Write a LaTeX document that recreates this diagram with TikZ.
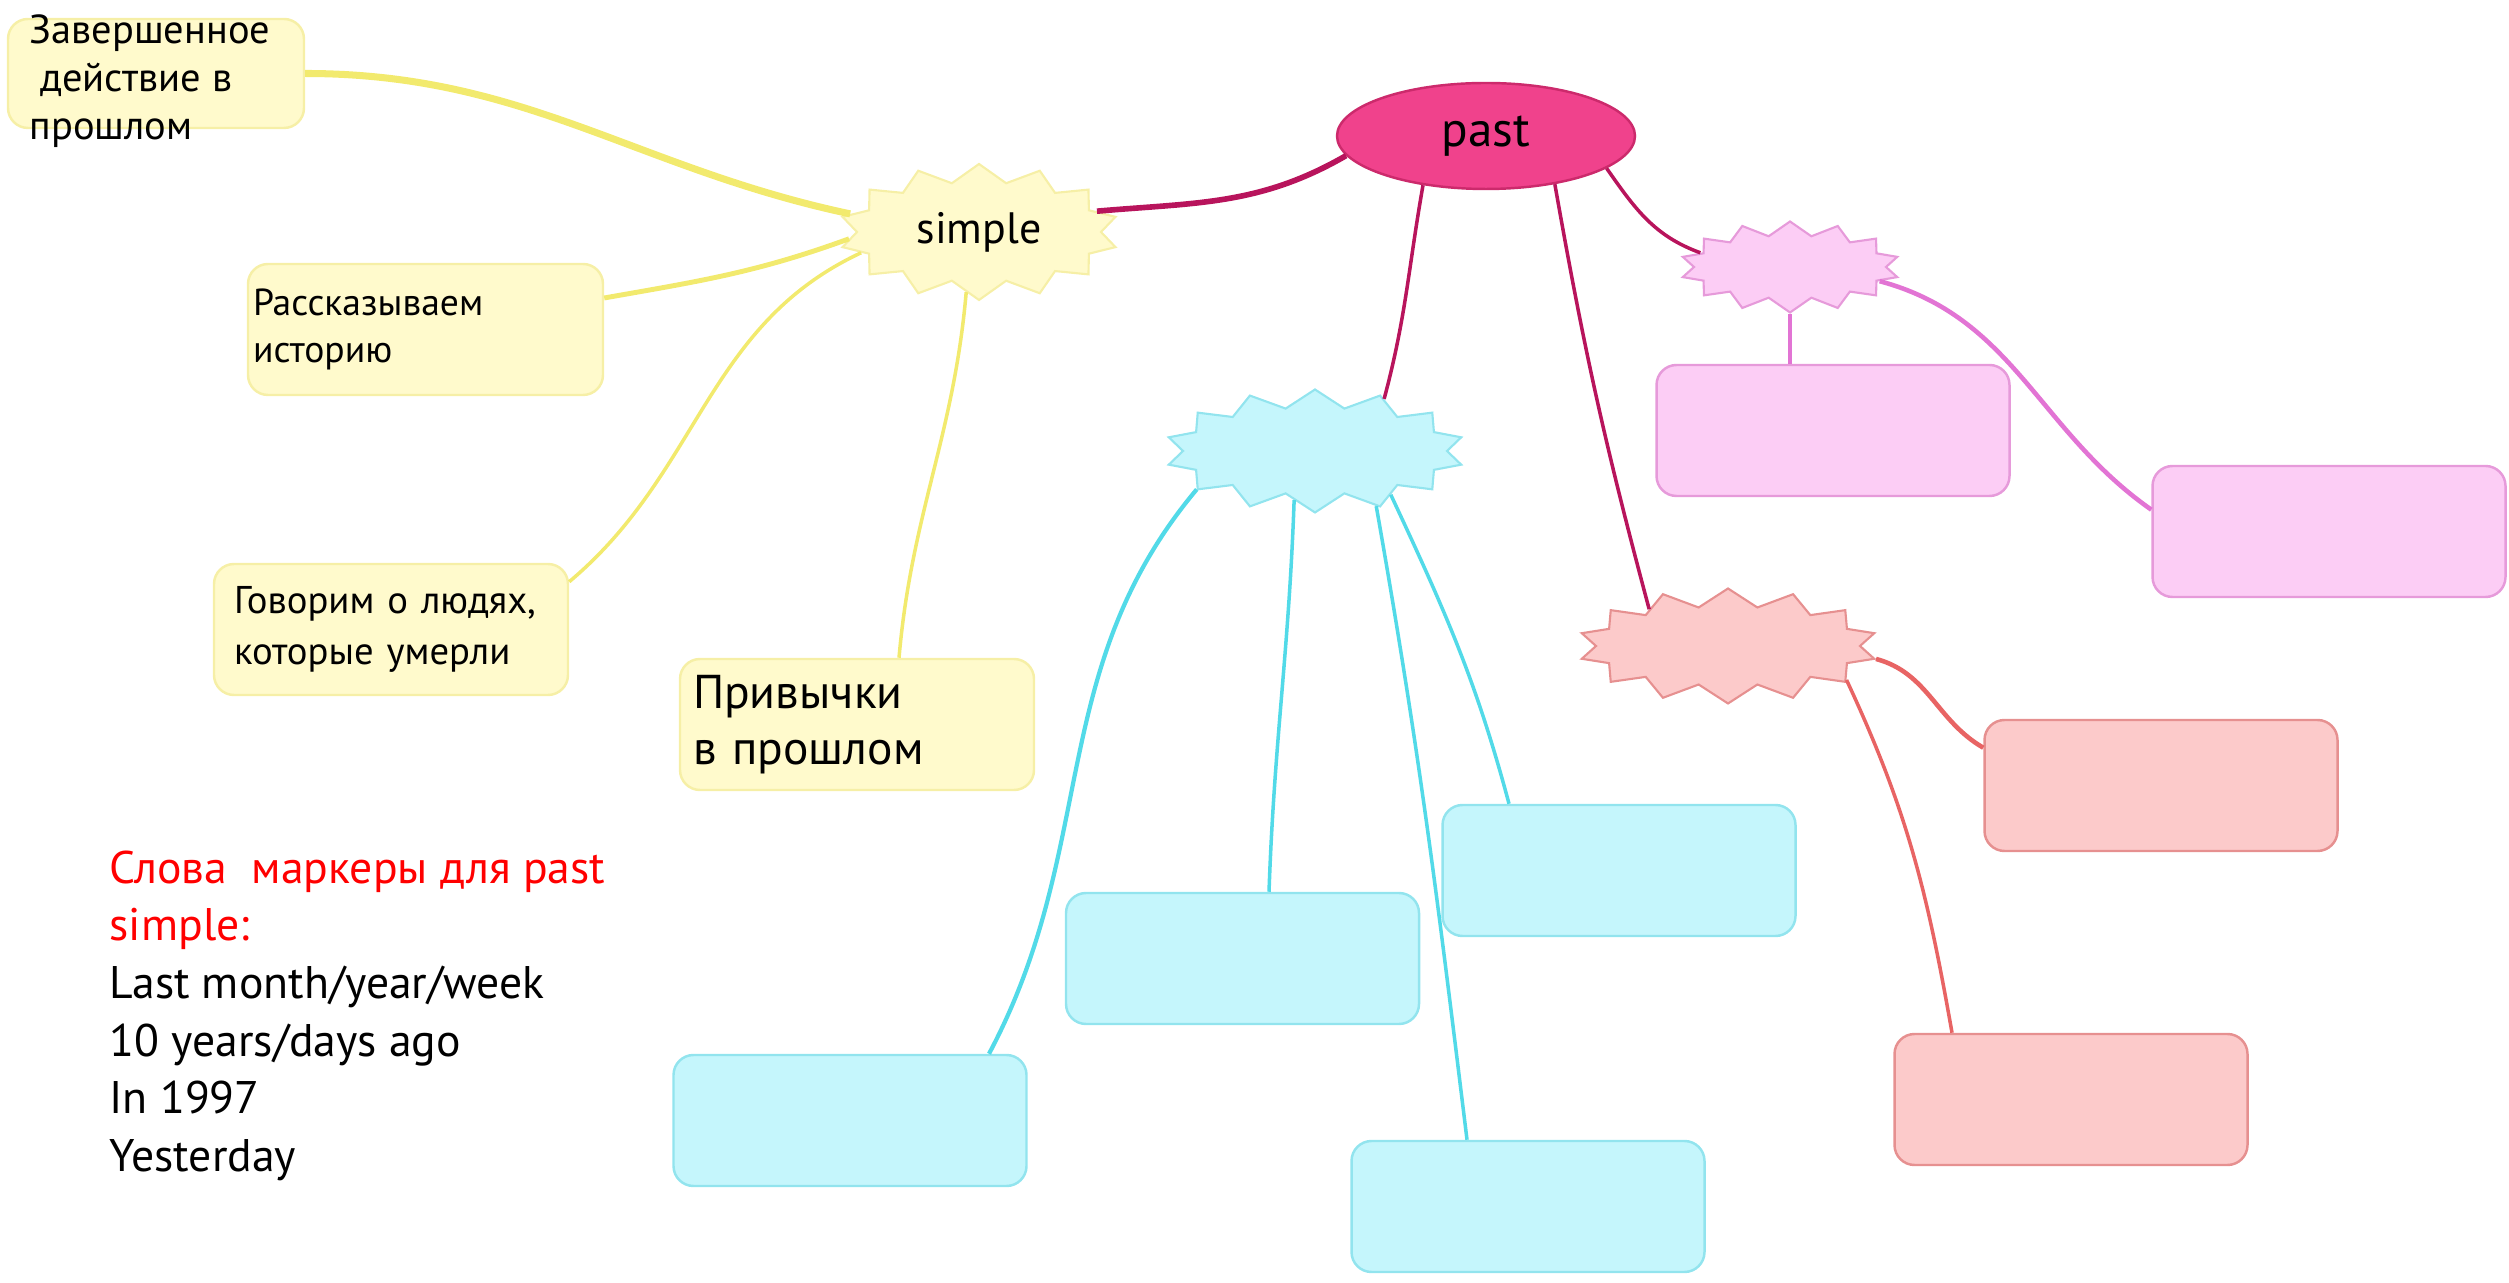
\documentclass[tikz,border=0pt]{standalone}
\usepackage{fontspec}
\setmainfont{PT Sans}
\usepackage{xcolor}
\usetikzlibrary{shapes.geometric,shapes.symbols}

% colori
\definecolor{gialloF}{HTML}{FFFACC}
\definecolor{gialloB}{HTML}{F6EFA6}
\definecolor{gialloL}{HTML}{F2EA6E}
\definecolor{pastF}{HTML}{F0428C}
\definecolor{pastB}{HTML}{CC2A6C}
\definecolor{pastL}{HTML}{B8145C}
\definecolor{cianoF}{HTML}{C5F6FC}
\definecolor{cianoB}{HTML}{92E4EE}
\definecolor{cianoL}{HTML}{52DAE8}
\definecolor{rosaF}{HTML}{FCCDF5}
\definecolor{rosaB}{HTML}{E69ADA}
\definecolor{rosaL}{HTML}{E274D4}
\definecolor{rossoF}{HTML}{FCCACA}
\definecolor{rossoB}{HTML}{E69090}
\definecolor{rossoL}{HTML}{E86464}
\definecolor{rosso}{HTML}{FF0000}

\tikzset{
  ramo/.style={draw, rounded corners=0.2cm, minimum width=3.53cm, minimum height=1.31cm, inner sep=0pt, line width=0.7pt},
  stella/.style={starburst, draw, starburst points=14, starburst point height=0.18cm, random starburst=0, inner sep=0pt, line width=0.6pt},
  linea/.style={line width=1pt},
}

\begin{document}
\begin{tikzpicture}
    \useasboundingbox (0,0) rectangle (25.09,-12.83);

    % Nodo centrale
    \node[ellipse, draw=pastB, fill=pastF, line width=0.7pt, minimum width=2.98cm, minimum height=1.06cm, font=\fontsize{14}{16}\selectfont] (past) at (14.86,-1.36) {past};

    % Stelle
    \node[stella, draw=gialloB, fill=gialloF, minimum width=2.8cm, minimum height=1.36cm, font=\fontsize{12.5}{15}\selectfont] (simple) at (9.79,-2.32) {simple};
    \node[stella, draw=cianoB, fill=cianoF, minimum width=3.0cm, minimum height=1.23cm] (cstar) at (13.15,-4.51) {};
    \node[stella, draw=rosaB, fill=rosaF, minimum width=2.2cm, minimum height=0.91cm, starburst point height=0.14cm] (pstar) at (17.90,-2.67) {};
    \node[stella, draw=rossoB, fill=rossoF, minimum width=3.0cm, minimum height=1.15cm] (rstar) at (17.28,-6.46) {};

    % Rami gialli
    \node[ramo, draw=gialloB, fill=gialloF, minimum width=2.96cm, minimum height=1.09cm] (zav) at (1.56,-0.735) {};
    \node[anchor=north west, align=left, inner sep=0pt, font=\fontsize{11.5}{13.6}\selectfont] (zavtesto) at (0.29,-0.14) {Завершенное\\\ действие в\\прошлом};
    \node[ramo, draw=gialloB, fill=gialloF, text width=3.45cm, inner xsep=0.05cm, align=left, font=\fontsize{10.7}{13.6}\selectfont] (ras) at (4.255,-3.295) {Рассказываем\\историю};
    \node[ramo, draw=gialloB, fill=gialloF, text width=3.14cm, inner xsep=0.2cm, align=left, font=\fontsize{11}{14.4}\selectfont] (gov) at (3.91,-6.295) {Говорим о людях,\\которые умерли};
    \node[ramo, draw=gialloB, fill=gialloF, text width=3.28cm, inner xsep=0.13cm, align=left, font=\fontsize{13.5}{15.9}\selectfont] (priv) at (8.57,-7.245) {Привычки\\в прошлом};

    % Rami ciano
    \node[ramo, draw=cianoB, fill=cianoF] (c1) at (8.50,-11.205) {};
    \node[ramo, draw=cianoB, fill=cianoF] (c2) at (12.425,-9.585) {};
    \node[ramo, draw=cianoB, fill=cianoF] (c3) at (16.19,-8.705) {};
    \node[ramo, draw=cianoB, fill=cianoF] (c4) at (15.28,-12.065) {};

    % Rami rosa e rossi
    \node[ramo, draw=rosaB, fill=rosaF] (p1) at (18.33,-4.305) {};
    \node[ramo, draw=rosaB, fill=rosaF] (p2) at (23.29,-5.315) {};
    \node[ramo, draw=rossoB, fill=rossoF] (r1) at (21.61,-7.855) {};
    \node[ramo, draw=rossoB, fill=rossoF] (r2) at (20.71,-10.995) {};

    % Collegamenti dal centro
    \draw[pastL, line width=1.6pt] (simple.10) to[out=5,in=210] (past.188);
    \draw[pastL, linea] (past.218) to[out=260,in=75] (cstar.37);
    \draw[pastL, linea] (past.325) to[out=-80,in=105] (rstar.155);
    \draw[pastL, linea] (past.345) to[out=-55,in=160] (pstar.171);

    % Collegamenti gialli
    \draw[gialloL, line width=2pt] (zav.east) to[out=0,in=168] (simple.172);
    \draw[gialloL, line width=1.4pt] (ras.10) to[out=10,in=200] (simple.183);
    \draw[gialloL, linea] (gov.15) to[out=40,in=205] (simple.190);
    \draw[gialloL, linea] ([xshift=0.42cm]priv.north) to[out=85,in=265] (simple.258);

    % Collegamenti ciano
    \draw[cianoL, line width=1.2pt] (cstar.198) to[out=230,in=62] ([xshift=1.39cm]c1.north);
    \draw[cianoL, linea] (cstar.247) to[out=268,in=88] ([xshift=0.265cm]c2.north);
    \draw[cianoL, linea] (cstar.318) to[out=-80,in=97] ([xshift=-0.61cm]c4.north);
    \draw[cianoL, linea] (cstar.330) to[out=-65,in=105] ([xshift=-1.10cm]c3.north);

    % Collegamenti rosa e rossi
    \draw[rosaL, linea] (pstar.south) -- (pstar.south |- p1.north);
    \draw[rosaL, line width=1.3pt] (pstar.351) to[out=-15,in=145] (p2.173);
    \draw[rossoL, line width=1.3pt] (rstar.355) to[out=-15,in=150] (r1.168);
    \draw[rossoL, linea] (rstar.344) to[out=-65,in=100] ([xshift=-1.19cm]r2.north);

    % Parole marcatori
    \node[anchor=north west, align=left, inner sep=0pt, font=\fontsize{13}{16.4}\selectfont] (marcatori) at (1.09,-8.5) {\textcolor{rosso}{Слова\ \ маркеры для past}\\\textcolor{rosso}{simple:}\\Last month/year/week\\10 years/days ago\\In 1997\\Yesterday};
\end{tikzpicture}
\end{document}
